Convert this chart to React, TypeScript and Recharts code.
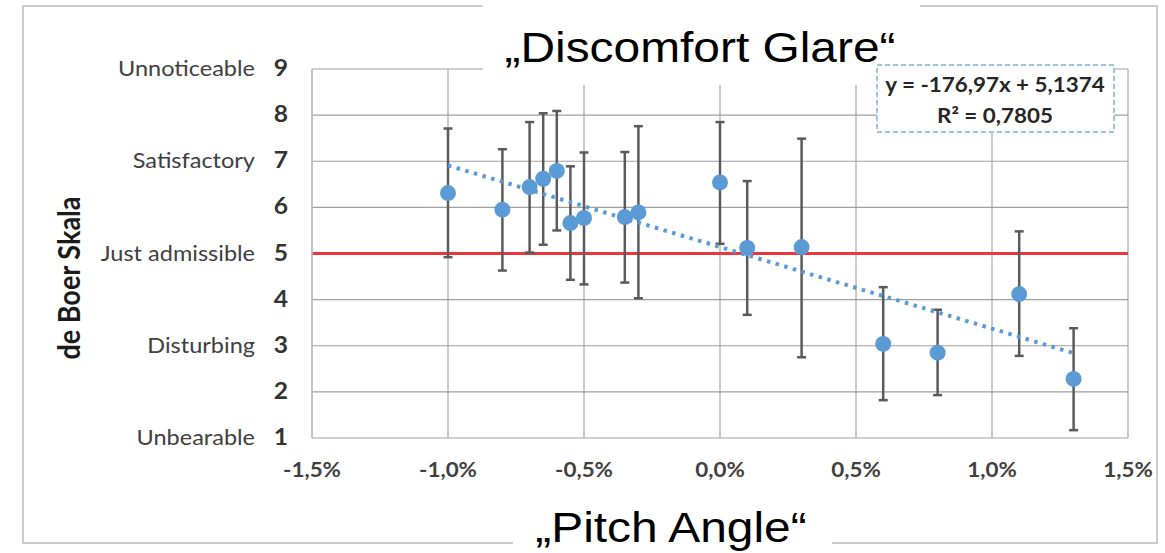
import React from "react";
import {
  ScatterChart,
  Scatter,
  XAxis,
  YAxis,
  CartesianGrid,
  ErrorBar,
  ReferenceLine,
} from "recharts";

// ---- data ----
const pitchAngles = [-1.0, -0.8, -0.7, -0.65, -0.6, -0.55, -0.5, -0.35, -0.3, 0.0, 0.1, 0.3, 0.6, 0.8, 1.1, 1.3];
const meanRatings = [6.31, 5.95, 6.44, 6.62, 6.79, 5.66, 5.77, 5.79, 5.89, 6.54, 5.12, 5.14, 3.04, 2.85, 4.12, 2.28];
const upperBounds = [7.71, 7.26, 7.85, 8.04, 8.09, 6.89, 7.19, 7.2, 7.76, 7.85, 6.57, 7.49, 4.27, 3.78, 5.48, 3.38];
const lowerBounds = [4.92, 4.63, 5.02, 5.19, 5.5, 4.43, 4.33, 4.37, 4.03, 5.21, 3.67, 2.75, 1.82, 1.93, 2.78, 1.17];

const trendPitch = [-1.0, 1.3];
const trendRating = [6.91, 2.84];

const xTickValues = [-1.5, -1.0, -0.5, 0, 0.5, 1.0, 1.5];
const xTickLabels = ["-1,5%", "-1,0%", "-0,5%", "0,0%", "0,5%", "1,0%", "1,5%"];
const yTickValues = [1, 2, 3, 4, 5, 6, 7, 8, 9];
const scaleLevels = [9, 7, 5, 3, 1];
const scaleNames = ["Unnoticeable", "Satisfactory", "Just admissible", "Disturbing", "Unbearable"];
const thresholdRating = 5;

const chartTitle = "\u201EDiscomfort Glare\u201C";
const xTitle = "\u201EPitch Angle\u201C";
const yTitle = "de Boer Skala";
const equationText = "y = -176,97x + 5,1374";
const rSquaredText = "R\u00B2 = 0,7805";

// ---- derived tables ----
const mainData = pitchAngles.map((p, i) => ({
  pitch: p,
  rating: meanRatings[i],
  err: [meanRatings[i] - lowerBounds[i], upperBounds[i] - meanRatings[i]],
}));
const trendData = trendPitch.map((p, i) => ({ pitch: p, rating: trendRating[i] }));

const W = 1165;
const H = 553;
const SX = 1.12;
const BODY_FONT = "Lato, 'Open Sans', sans-serif";
const TITLE_FONT = "'Liberation Sans', Arial, sans-serif";
const BLUE = "#5b9bd5";

const YTick = (props: any) => {
  const { x, y, payload } = props;
  const v = payload.value;
  const idx = scaleLevels.indexOf(v);
  return (
    <g>
      <text
        transform={`translate(${x - 24},${y + 7}) scale(${SX},1)`}
        textAnchor="end"
        fontFamily={BODY_FONT}
        fontWeight={700}
        fontSize={22}
        fill="#333333"
      >
        {v}
      </text>
      {idx >= 0 && (
        <text
          transform={`translate(${x - 57},${y + 7}) scale(${SX},1)`}
          textAnchor="end"
          fontFamily={BODY_FONT}
          fontWeight={400}
          fontSize={21}
          fill="#404040"
        >
          {scaleNames[idx]}
        </text>
      )}
    </g>
  );
};

const XTick = (props: any) => {
  const { x, y, payload } = props;
  const idx = xTickValues.indexOf(payload.value);
  return (
    <text
      transform={`translate(${x},${y + 39}) scale(${SX},1)`}
      textAnchor="middle"
      fontFamily={BODY_FONT}
      fontWeight={700}
      fontSize={20}
      fill="#404040"
    >
      {idx >= 0 ? xTickLabels[idx] : payload.value}
    </text>
  );
};

const Dot = (props: any) => {
  const { cx, cy } = props;
  if (cx == null || cy == null) return <g />;
  return <circle cx={cx} cy={cy} r={8} fill={BLUE} />;
};

const NoShape = () => <g />;

export default function App() {
  return (
    <div style={{ position: "absolute", left: 0, top: 0, width: W, height: H, background: "#ffffff" }}>
      <ScatterChart
        width={W}
        height={H}
        margin={{ top: 69, right: 37, bottom: 75, left: 22 }}
      >
        <CartesianGrid stroke="#9f9f9f" strokeWidth={1.1} />
        <XAxis
          type="number"
          dataKey="pitch"
          domain={[-1.5, 1.5]}
          ticks={xTickValues}
          interval={0}
          height={40}
          tickSize={0}
          tickMargin={0}
          tickLine={false}
          axisLine={{ stroke: "#d0d0d0", strokeWidth: 1.5 }}
          tick={<XTick />}
          allowDataOverflow
        />
        <YAxis
          type="number"
          dataKey="rating"
          domain={[1, 9]}
          ticks={yTickValues}
          interval={0}
          width={290}
          tickSize={0}
          tickMargin={0}
          tickLine={false}
          axisLine={{ stroke: "#bfbfbf", strokeWidth: 1.5 }}
          tick={<YTick />}
          allowDataOverflow
        />
        <ReferenceLine y={thresholdRating} stroke="#e8383d" strokeWidth={3} />
        <Scatter
          data={mainData}
          fill={BLUE}
          shape={<Dot />}
          isAnimationActive={false}
        >
          <ErrorBar
            dataKey="err"
            direction="y"
            width={4.5}
            stroke="#5a5a5a"
            strokeWidth={2.5}
            isAnimationActive={false}
          />
        </Scatter>
        <Scatter
          data={trendData}
          fill={BLUE}
          shape={<NoShape />}
          line={{ stroke: BLUE, strokeWidth: 4, strokeDasharray: "3.5 5.5" }}
          isAnimationActive={false}
        />
      </ScatterChart>

      <svg
        width={W}
        height={H}
        style={{ position: "absolute", left: 0, top: 0, pointerEvents: "none" }}
      >
        <rect x={23} y={6} width={1134} height={537} fill="none" stroke="#bcbcbc" strokeWidth={1.5} />
        <rect x={483} y={0} width={437} height={85} fill="#ffffff" />
        <rect x={513} y={495} width={319} height={58} fill="#ffffff" />
        <text
          transform={`translate(700,62) scale(1.14,1)`}
          textAnchor="middle"
          fontFamily={TITLE_FONT}
          fontSize={42}
          fill="#000000"
        >
          {chartTitle}
        </text>
        <text
          transform={`translate(671,542) scale(1.14,1)`}
          textAnchor="middle"
          fontFamily={TITLE_FONT}
          fontSize={42}
          fill="#000000"
        >
          {xTitle}
        </text>
        <text
          transform={`translate(68,278) rotate(-90) scale(1,${SX})`}
          textAnchor="middle"
          dominantBaseline="central"
          fontFamily={BODY_FONT}
          fontWeight={700}
          fontSize={27}
          fill="#1a1a1a"
        >
          {yTitle}
        </text>
        <rect
          x={877}
          y={65}
          width={237}
          height={67}
          fill="#ffffff"
          stroke="#9dc3e6"
          strokeWidth={2}
          strokeDasharray="5 3"
        />
        <text
          transform={`translate(995,92) scale(${SX},1)`}
          textAnchor="middle"
          fontFamily={BODY_FONT}
          fontWeight={700}
          fontSize={20}
          fill="#262626"
        >
          {equationText}
        </text>
        <text
          transform={`translate(995,123) scale(${SX},1)`}
          textAnchor="middle"
          fontFamily={BODY_FONT}
          fontWeight={700}
          fontSize={20}
          fill="#262626"
        >
          {rSquaredText}
        </text>
      </svg>
    </div>
  );
}
